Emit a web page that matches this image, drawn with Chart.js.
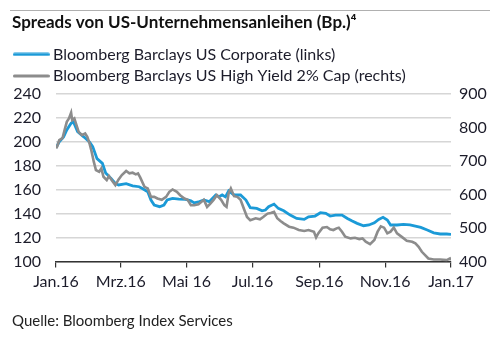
<!DOCTYPE html>
<html><head><meta charset="utf-8">
<script src="https://cdn.jsdelivr.net/npm/chart.js@4/dist/chart.umd.min.js"></script>
<style>html,body{margin:0;padding:0;background:#fff}</style>
</head><body><canvas id="c" width="500" height="355"></canvas>
<script>
const titleText = 'Spreads von US-Unternehmensanleihen (Bp.)\u2074';
const sourceText = 'Quelle: Bloomberg Index Services';
const seriesNames = ['Bloomberg Barclays US Corporate (links)', 'Bloomberg Barclays US High Yield 2% Cap (rechts)'];
// x = days since 1 Jan 2016
const tickDays = [0, 60, 121, 182, 244, 305, 366];
const tickLabels = ['Jan.16', 'Mrz.16', 'Mai 16', 'Jul.16', 'Sep.16', 'Nov.16', 'Jan.17'];
const leftTicks = [100, 120, 140, 160, 180, 200, 220, 240];
const rightTicks = [400, 500, 600, 700, 800, 900];

const corpDays = [0,3,7,10,14,16,20,26,31,34,38,43,46,51,55,58,65,71,77,80,85,88,91,96,100,103,108,114,120,125,128,133,137,142,148,151,154,157,160,165,171,176,180,186,191,194,197,202,206,211,217,223,230,234,240,245,250,254,259,265,270,274,279,285,290,295,299,303,307,310,316,322,328,333,338,344,350,356,362,366];
const corpValues = [195,200,204,210,215.5,217,208.5,204,200,196,186,182,174,169.5,165.3,164,165,163.3,162.5,161,158.3,151.4,147.2,145.8,147.2,151.4,152.8,152.2,152,150.8,149,150,151.4,150,155.6,154.1,155.6,154,159,155.6,155.6,151.4,145,144.4,142.4,143,145.8,148,144.4,142.4,138.8,136,135.2,137.4,138,140.8,140.2,138,138.8,138.8,136,134,131.9,129.9,130.5,132.4,135.2,136.9,134.6,130.5,130.5,131,130.7,129.6,128.5,126.3,124,123,123,122.7];

const hyDays = [0,1,3,6,8,10,12,14,15,17,18,21,24,27,29,31,33,35,37,40,42,44,47,49,52,55,58,61,65,68,71,74,76,78,82,85,88,91,94,98,102,105,108,112,115,119,122,125,128,132,137,140,143,146,149,153,156,158,160,162,165,168,171,174,177,180,185,189,192,196,199,202,205,208,211,216,220,225,230,234,239,241,243,247,251,254,257,260,262,265,268,273,277,281,284,287,291,295,298,301,304,307,310,313,316,321,325,330,333,336,339,342,345,350,356,362,365,366];
const hyValues = [738,743,762,768,793,817,827,844,822,827,817,787,777,782,772,753,728,698,673,668,678,653,643,655,641,628,645,658,670,663,665,660,663,651,623,618,593,593,588,584,593,608,615,608,598,588,584,568,568,571,584,563,573,584,598,584,568,563,604,618,595,593,584,558,533,523,529,526,533,543,545,548,529,521,514,504,501,494,491,494,489,472,484,501,503,496,494,499,501,489,474,469,471,467,469,459,452,464,489,505,501,484,489,501,484,472,462,459,454,444,429,419,409,406,406,404,409,404];

const blue = '#1b9ad7';
const grey = '#8c8c8c';
const textCol = '#1c1c2a';

function lineImg(color) {
  const cv = document.createElement('canvas');
  cv.width = 37; cv.height = 4;
  const g = cv.getContext('2d');
  g.strokeStyle = color; g.lineWidth = 3; g.lineCap = 'round';
  g.beginPath(); g.moveTo(1.5, 2); g.lineTo(35.5, 2); g.stroke();
  return cv;
}

const decor = {
  id: 'decor',
  beforeDraw(chart) {
    const ctx = chart.ctx;
    ctx.save();
    ctx.fillStyle = '#fff';
    ctx.fillRect(0, 0, chart.width, chart.height);
    ctx.strokeStyle = '#b0b0b0';
    ctx.lineWidth = 1;
    ctx.beginPath(); ctx.moveTo(10, 10.5); ctx.lineTo(490, 10.5); ctx.stroke();
    ctx.restore();
  }
};

function build() {
  const imgs = [lineImg(blue), lineImg(grey)];
  new Chart(document.getElementById('c'), {
    type: 'line',
    data: {
      datasets: [
        { label: seriesNames[0], data: corpDays.map((d, i) => ({x: d, y: corpValues[i]})), yAxisID: 'yL',
          borderColor: blue, borderWidth: 2.8, pointRadius: 0, tension: 0, order: 2 },
        { label: seriesNames[1], data: hyDays.map((d, i) => ({x: d, y: hyValues[i]})), yAxisID: 'yR',
          borderColor: grey, borderWidth: 2.6, pointRadius: 0, tension: 0, order: 1 }
      ]
    },
    options: {
      responsive: false,
      animation: false,
      devicePixelRatio: 1,
      layout: { padding: { left: 12, right: 10, top: 0, bottom: 0 } },
      plugins: {
        tooltip: { enabled: false },
        title: {
          display: true, text: titleText, align: 'start', color: '#111',
          font: { family: 'Lato', size: 17, weight: 'bold' },
          padding: { top: 12.3, bottom: 8.1 }
        },
        legend: {
          display: true, position: 'top', align: 'start',
          labels: {
            usePointStyle: true, pointStyleWidth: 27.4, padding: 5.6, color: textCol,
            font: { family: 'Lato', size: 16 },
            generateLabels: (chart) => chart.data.datasets.map((ds, i) => ({
              text: ds.label, pointStyle: imgs[i], fillStyle: ds.borderColor, strokeStyle: ds.borderColor,
              lineWidth: 0, hidden: false, datasetIndex: i, fontColor: textCol
            }))
          }
        },
        subtitle: {
          display: true, position: 'bottom', align: 'start', text: sourceText, color: '#222',
          font: { family: 'Lato', size: 15 },
          padding: { top: 10.5, bottom: 25 }
        }
      },
      scales: {
        x: {
          type: 'linear', min: 0, max: 366,
          afterBuildTicks: (s) => { s.ticks = tickDays.map(v => ({ value: v })); },
          afterFit: (s) => { s.height = 40; },
          ticks: { autoSkip: false, maxRotation: 0, padding: 4.6, color: textCol,
                   font: { family: 'Lato', size: 16 },
                   callback: (v, i) => tickLabels[i] },
          grid: { drawOnChartArea: false, drawTicks: true, tickLength: 6, color: '#333', lineWidth: 1.2 },
          border: { display: true, color: '#333', width: 1.5 }
        },
        yL: {
          position: 'left', min: 100, max: 240,
          afterBuildTicks: (s) => { s.ticks = leftTicks.map(v => ({ value: v })); },
          afterFit: (s) => { s.width = 44; },
          ticks: { padding: 15, color: textCol, font: { family: 'Lato', size: 16 } },
          grid: { drawTicks: false, color: '#d6d6d6', lineWidth: 1.5 },
          border: { display: false }
        },
        yR: {
          position: 'right', min: 400, max: 900,
          afterBuildTicks: (s) => { s.ticks = rightTicks.map(v => ({ value: v })); },
          afterFit: (s) => { s.width = 39; },
          ticks: { padding: 8, color: textCol, font: { family: 'Lato', size: 16 } },
          grid: { display: false, drawTicks: false },
          border: { display: false }
        }
      }
    },
    plugins: [decor]
  });
}

Promise.all([
  document.fonts.load('16px Lato'), document.fonts.load('bold 17px Lato'), document.fonts.load('15px Lato')
]).then(build, build);
</script>
</body></html>
